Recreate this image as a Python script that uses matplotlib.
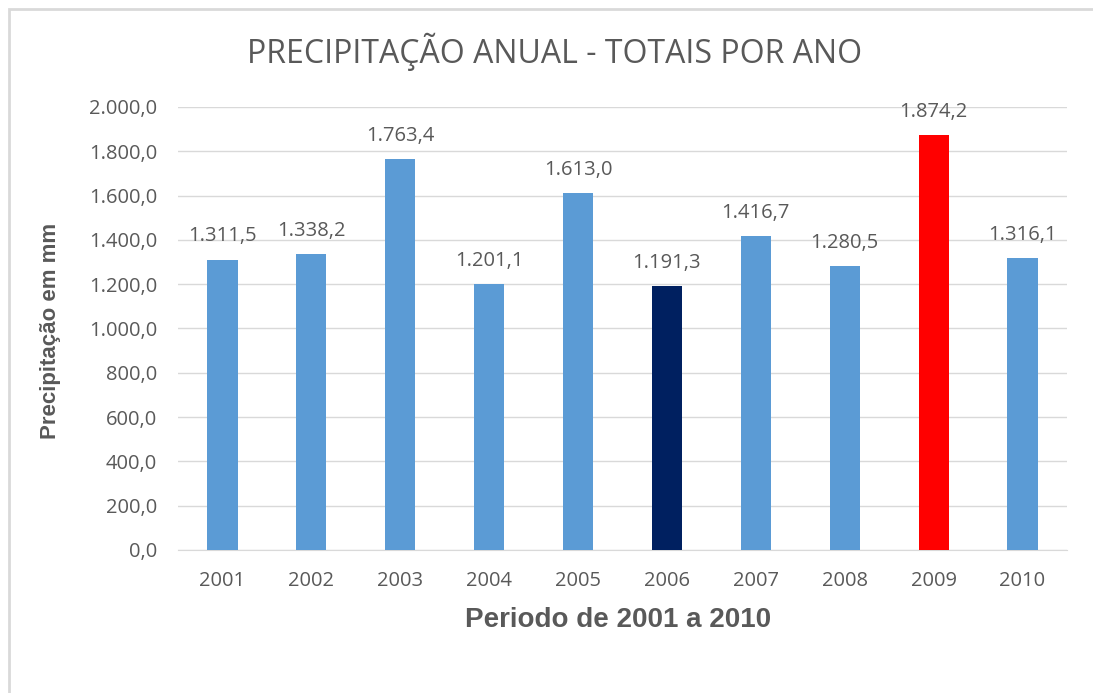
import matplotlib
matplotlib.use('Agg')
import matplotlib.pyplot as plt
from matplotlib.patches import Rectangle

# dados
anos = ['2001', '2002', '2003', '2004', '2005', '2006', '2007', '2008', '2009', '2010']
precip = [1311.5, 1338.2, 1763.4, 1201.1, 1613.0, 1191.3, 1416.7, 1280.5, 1874.2, 1316.1]
cores = ['#5B9BD5'] * 10
cores[5] = '#002060'
cores[8] = '#FF0000'

def fmt_br(v):
    s = f"{v:,.1f}"
    return s.replace(',', 'X').replace('.', ',').replace('X', '.')

plt.rcParams['font.family'] = ['Open Sans', 'DejaVu Sans']
cinza = '#595959'

fig = plt.figure(figsize=(10.93, 6.93), dpi=100)
fig.patches.append(Rectangle((9 / 1093, -0.1), 1.2, 1 - 9 / 693 + 0.1, transform=fig.transFigure,
                             fill=False, edgecolor='#D9D9D9', linewidth=2))
ax = fig.add_axes([178 / 1093, 1 - 550 / 693, (1067 - 178) / 1093, (550 - 107) / 693])

x = range(len(anos))
ax.bar(x, precip, width=0.34, color=cores, zorder=3)
for i, v in enumerate(precip):
    ax.annotate(fmt_br(v), (i, v), xytext=(0, 13), textcoords='offset points',
                ha='center', va='baseline', fontsize=14.5, color=cinza)

ax.set_ylim(0, 2000)
ax.set_xlim(-0.5, len(anos) - 0.5)
ax.set_yticks(range(0, 2001, 200))
ax.set_yticklabels([fmt_br(t) for t in range(0, 2001, 200)])
ax.set_xticks(list(x))
ax.set_xticklabels(anos)
ax.tick_params(axis='both', length=0, labelsize=14.5, colors=cinza)
ax.tick_params(axis='y', pad=15)
ax.tick_params(axis='x', pad=15)
ax.grid(axis='y', color='#D9D9D9', linewidth=1, zorder=0)
for s in ['top', 'right', 'left']:
    ax.spines[s].set_visible(False)
ax.spines['bottom'].set_color('#D9D9D9')

fig.text(555 / 1093, 1 - 52 / 693, 'PRECIPITAÇÃO ANUAL - TOTAIS POR ANO', ha='center', va='center',
         fontsize=23, color=cinza)
fig.text(51 / 1093, 1 - 331 / 693, 'Precipitação em mm', rotation=90, ha='center', va='center',
         fontsize=16, fontweight='bold', color=cinza, family='Liberation Sans')
fig.text(618 / 1093, 1 - 620 / 693, 'Periodo de 2001 a 2010', ha='center', va='center',
         fontsize=20, fontweight='bold', color=cinza, family='Liberation Sans')

fig.savefig('out.png', dpi=100)
